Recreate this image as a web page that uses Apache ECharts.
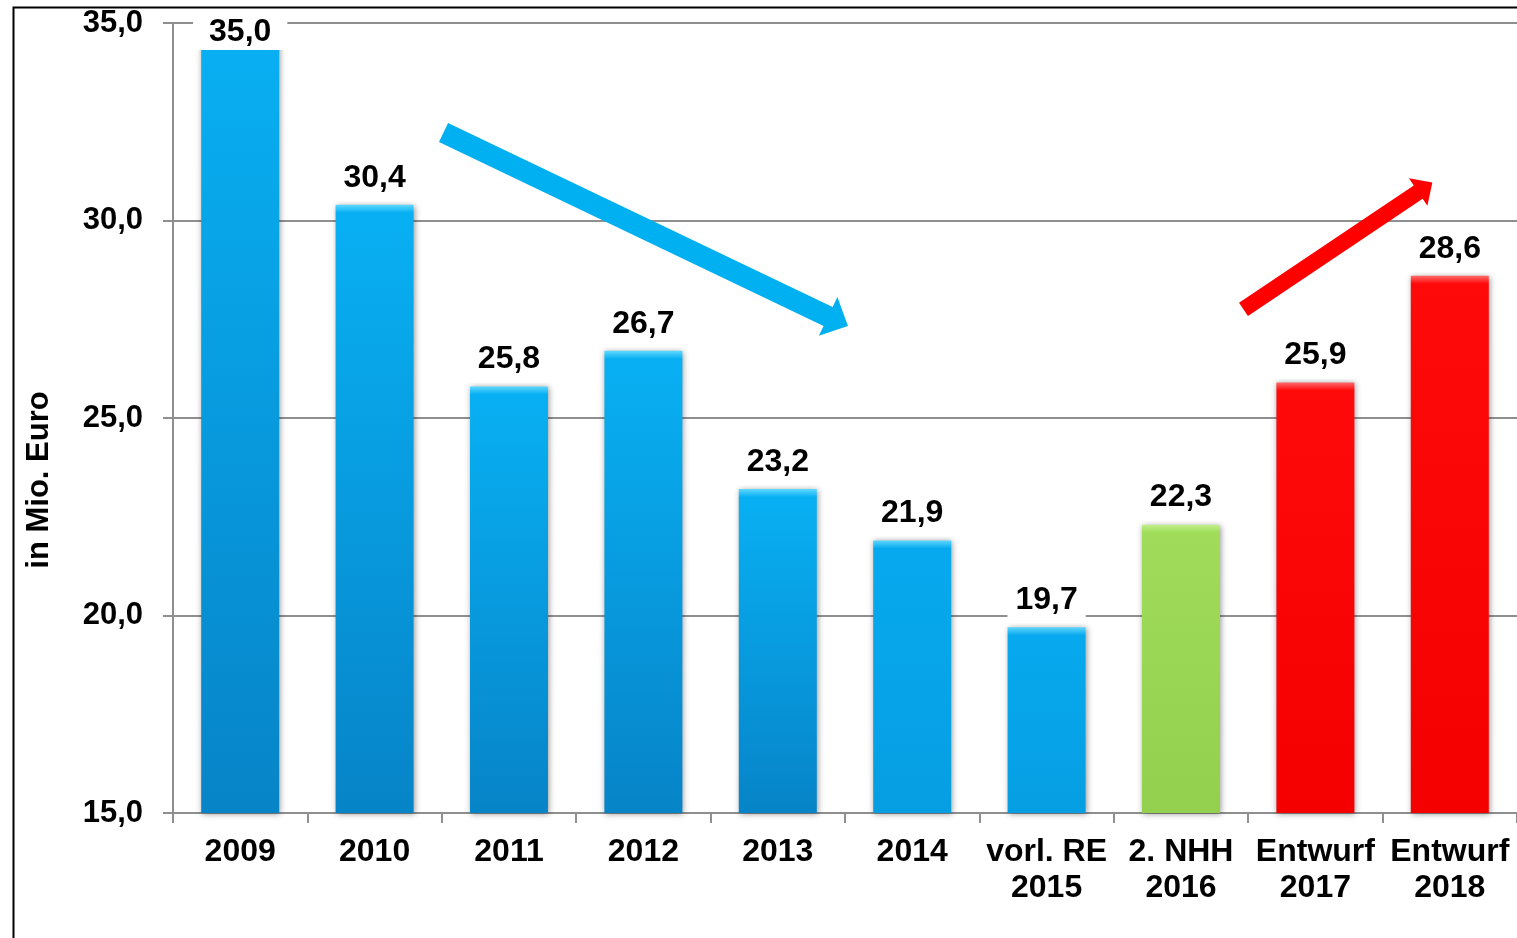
<!DOCTYPE html>
<html><head><meta charset="utf-8">
<script src="https://cdn.jsdelivr.net/npm/echarts@6/dist/echarts.min.js"></script>
<style>html,body{margin:0;padding:0;background:#fff}#c{width:1517px;height:938px}</style>
</head><body><div id="c"></div>
<script>
// ---- data ----
const categories = ['2009', '2010', '2011', '2012', '2013', '2014', 'vorl. RE\n2015', '2. NHH\n2016', 'Entwurf\n2017', 'Entwurf\n2018'];
const values = [35.0, 30.4, 25.8, 26.7, 23.2, 21.9, 19.7, 22.3, 25.9, 28.6];
const yMin = 15, yMax = 35, yStep = 5;
const yTitle = 'in Mio. Euro';
const barKinds = ['deep', 'deep', 'deep', 'deep', 'deep', 'flat', 'flat', 'green', 'red', 'red'];
// trend arrows, in data units [category index, value]
const trendDown = [[1.513, 32.23], [4.522, 27.33]];
const trendUp = [[7.465, 27.75], [8.870, 30.96]];

// ---- styles ----
const FONT = '"Liberation Sans", Arial, sans-serif';
const palette = {
  deep:  {bevel: '#5fd8ff', top: '#08b0f3', bottom: '#0784c8'},
  flat:  {bevel: '#5fd6ff', top: '#07a9ee', bottom: '#069ee3'},
  green: {bevel: '#c4f08c', top: '#a0dc5a', bottom: '#92d04e'},
  red:   {bevel: '#ff6a6a', top: '#ff0a0a', bottom: '#f40000'}
};
const fmt = v => v.toFixed(1).replace('.', ',');

const chart = echarts.init(document.getElementById('c'), null, {renderer: 'canvas'});

function barItem(v, i, hPx) {
  const p = palette[barKinds[i]];
  const b = Math.min(0.5, 8 / Math.max(hPx, 1));
  const item = {
    value: v,
    itemStyle: {
      color: {type: 'linear', x: 0, y: 0, x2: 0, y2: 1, colorStops: [
        {offset: 0, color: p.bevel},
        {offset: b, color: p.top},
        {offset: 1, color: p.bottom}
      ]}
    }
  };
  if (v >= yMax) {
    item.label = {position: 'insideTop', distance: -9, padding: [0, 16, 0, 16], lineHeight: 36};
  }
  return item;
}

const option = {
  animation: false,
  backgroundColor: '#ffffff',
  grid: {left: 173, right: 0, top: 23, bottom: 125, containLabel: false},
  xAxis: {
    type: 'category',
    data: categories,
    boundaryGap: true,
    axisLine: {show: true, lineStyle: {color: '#8f8f8f', width: 2}},
    axisTick: {show: true, length: 10, interval: 0, lineStyle: {color: '#8f8f8f', width: 2}},
    axisLabel: {interval: 0, margin: 21, color: '#000', fontFamily: FONT, fontWeight: 'bold', fontSize: 32, lineHeight: 36}
  },
  yAxis: {
    type: 'value',
    min: yMin, max: yMax, interval: yStep,
    axisLine: {show: true, lineStyle: {color: '#8f8f8f', width: 2}},
    axisTick: {show: true, length: 10, lineStyle: {color: '#8f8f8f', width: 2}},
    splitLine: {show: true, lineStyle: {color: '#8f8f8f', width: 2}},
    axisLabel: {margin: 30, color: '#000', fontFamily: FONT, fontWeight: 'bold', fontSize: 31,
                padding: [4, 0, 0, 0], formatter: v => fmt(v)}
  },
  series: [{
    type: 'bar',
    barWidth: 78,
    data: values.map((v, i) => barItem(v, i, 400)),
    itemStyle: {shadowBlur: 6, shadowColor: 'rgba(0,0,0,0.4)', shadowOffsetX: 1, shadowOffsetY: 1},
    label: {
      show: true, position: 'top', distance: 4,
      color: '#000', fontFamily: FONT, fontWeight: 'bold', fontSize: 32, lineHeight: 30,
      backgroundColor: '#ffffff', padding: [8, 8, 8, 8],
      formatter: p => fmt(p.value)
    }
  }],
  graphic: [
    {type: 'rect', id: 'frame', left: 11, top: 5, shape: {x: 0, y: 0, width: 1600, height: 1000},
     style: {fill: 'none', stroke: '#000', lineWidth: 2}, silent: true, z: 100},
    {type: 'text', id: 'ytitle', x: 39, y: 480, rotation: Math.PI / 2,
     style: {text: yTitle, fill: '#000', font: 'bold 31px ' + FONT, align: 'center', verticalAlign: 'middle'}, z: 100}
  ]
};
chart.setOption(option);

// refine: bevel band height in pixels, arrows positioned through the axes
const px0 = chart.convertToPixel({xAxisIndex: 0}, 0);
const px1 = chart.convertToPixel({xAxisIndex: 0}, 1);
const toPx = ([ci, val]) => [px0 + ci * (px1 - px0), chart.convertToPixel({yAxisIndex: 0}, val)];
const baseY = chart.convertToPixel({yAxisIndex: 0}, yMin);
const heights = values.map(v => baseY - chart.convertToPixel({yAxisIndex: 0}, Math.min(v, yMax)));

function arrowPoly(a, b, w, hw, hl) {
  const T = toPx(a), P = toPx(b);
  const dx = P[0] - T[0], dy = P[1] - T[1];
  const L = Math.hypot(dx, dy);
  const ux = dx / L, uy = dy / L, nx = -uy, ny = ux;
  const B = [P[0] - ux * hl, P[1] - uy * hl];
  return [
    [T[0] + nx * w / 2, T[1] + ny * w / 2],
    [B[0] + nx * w / 2, B[1] + ny * w / 2],
    [B[0] + nx * hw / 2, B[1] + ny * hw / 2],
    P,
    [B[0] - nx * hw / 2, B[1] - ny * hw / 2],
    [B[0] - nx * w / 2, B[1] - ny * w / 2],
    [T[0] - nx * w / 2, T[1] - ny * w / 2]
  ];
}

chart.setOption({
  series: [{data: values.map((v, i) => barItem(v, i, heights[i]))}],
  graphic: [
    option.graphic[0], option.graphic[1],
    {type: 'polygon', id: 'arrowDown', shape: {points: arrowPoly(trendDown[0], trendDown[1], 21, 43, 22)},
     style: {fill: '#00b0f0'}, z: 90},
    {type: 'polygon', id: 'arrowUp', shape: {points: arrowPoly(trendUp[0], trendUp[1], 16, 33, 17)},
     style: {fill: '#ff0000'}, z: 90}
  ]
});
</script>
</body></html>
